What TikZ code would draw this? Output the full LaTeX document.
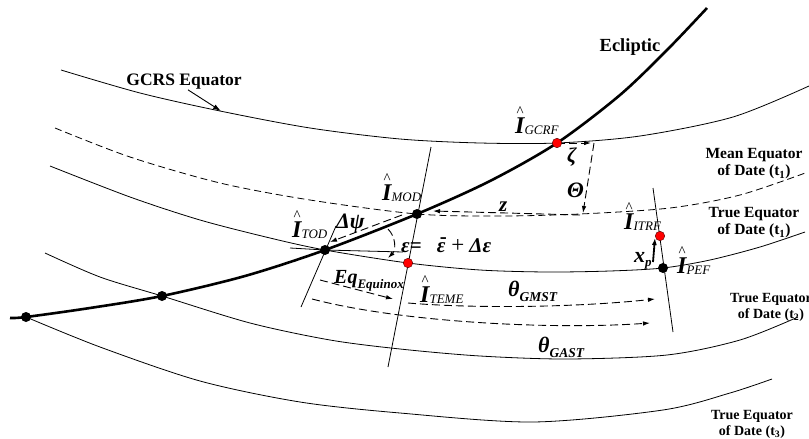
\documentclass[tikz,border=0pt]{standalone}
\usepackage{fontspec}
\setmainfont{Liberation Serif}
\usetikzlibrary{arrows.meta}
\newcommand\uvI[1]{\makebox[0pt][l]{\hspace{1.5pt}\raisebox{17pt}{\fontsize{15}{15}\selectfont\textasciicircum}}{\fontsize{24}{24}\selectfont\bfseries\itshape I}\raisebox{-1.5pt}{\fontsize{13}{13}\selectfont\itshape #1}}
\newcommand\epsbar{\makebox[0pt][l]{\hspace{3pt}\raisebox{8.5pt}{\upshape -}}ε}
\tikzset{
  thin line/.style={line width=0.8pt},
  ecl/.style={line width=2.6pt},
  dashcurve/.style={line width=0.8pt, dash pattern=on 7pt off 4pt},
  darr/.style={line width=0.9pt, dash pattern=on 8pt off 4pt, -{Latex[length=7pt,width=4.5pt]}},
  sarr/.style={line width=0.9pt, -{Latex[length=8pt,width=5pt]}},
  bdot/.style={circle, fill=black, inner sep=0pt, minimum size=10pt},
  rdot/.style={circle, fill=red, draw=black!70!red, line width=0.4pt, inner sep=0pt, minimum size=9.5pt},
  lbl/.style={inner sep=0pt, font=\bfseries},
  sym/.style={inner sep=0pt, anchor=base west},
}
\begin{document}
\begin{tikzpicture}[x=1pt,y=-1pt]
\useasboundingbox (0,0) rectangle (809,439);
% key points
\coordinate (p0) at (26,317);
\coordinate (p1) at (162,296);
\coordinate (tod) at (325,250);
\coordinate (mod) at (417,214);
\coordinate (gcrf) at (557,143);
\coordinate (teme) at (408,263);
\coordinate (itrf) at (660,236);
\coordinate (pef) at (663,268);
% GCRS equator
\draw[thin line] plot[smooth] coordinates {(61,70) (140,93) (220,111) (310,128) (400,139) (480,143) (gcrf) (640,136) (733,117) (809,86)};
% Mean equator of date (dashed)
\draw[dashcurve] plot[smooth] coordinates {(55,128) (130,157) (220,183) (310,200) (mod) (500,216) (580,214) (670,208) (740,195) (808,172)};
% True equator t1
\draw[thin line] plot[smooth] coordinates {(50,166) (130,197) (200,220) (270,238) (tod) (teme) (480,270) (547,272) (610,271) (pef) (710,260) (760,247) (805,232)};
% True equator t2
\draw[thin line] plot[smooth] coordinates {(45,253) (100,277) (p1) (250,323) (330,340) (400,349) (480,356) (567,359) (667,355) (740,340) (798,317)};
% True equator t3
\draw[thin line] plot[smooth] coordinates {(p0) (100,347) (200,381) (300,402) (400,413) (533,422) (663,410) (730,393) (772,379)};
% Ecliptic
\draw[ecl] plot[smooth] coordinates {(10,318) (p0) (90,308) (p1) (245,276) (tod) (mod) (490,181) (gcrf) (620,95) (668,49) (707,8)};
% tangent at TOD
\coordinate (tanL) at (290,248);
\coordinate (tanR) at (403,252);
\draw[thin line] (tanL) -- (tod) -- (tanR);
% meridian lines
\coordinate (m1a) at (336,226); \coordinate (m1b) at (301,307);
\coordinate (m2a) at (431,147); \coordinate (m2b) at (388,367);
\coordinate (m3a) at (653,188); \coordinate (m3b) at (673,332);
\draw[thin line] (m1a) -- (m1b);
\draw[thin line] (m2a) -- (m2b);
\draw[thin line] (m3a) -- (m3b);
% dashed arrows
\coordinate (zetaE) at (591,143);
\coordinate (thtop) at (594,143);
\coordinate (thbot) at (583,213);
\coordinate (zR) at (580,215);
\coordinate (zL) at (433,211);
\coordinate (dpsiA) at (402,215);
\coordinate (dpsiB) at (330,242);
\coordinate (epsA) at (388,229);
\coordinate (epsB) at (388,258);
\coordinate (eqA) at (320,280);
\coordinate (eqB) at (393,299);
\coordinate (gmA) at (408,303);
\coordinate (gmB) at (655,299);
\coordinate (gaA) at (312,299);
\coordinate (gaB) at (650,323);
\coordinate (xpA) at (653,262);
\coordinate (xpB) at (655,238);
\coordinate (gcrstip) at (221,111);
\draw[darr] (gcrf) -- (zetaE);
\draw[darr] (thtop) -- (thbot);
\draw[darr] (zR) -- (zL);
\draw[darr] (dpsiA) -- (dpsiB);
\draw[darr] (epsA) .. controls (396,237) and (396,250) .. (epsB);
\draw[darr] (eqA) -- (eqB);
\draw[darr] (gmA) .. controls (480,309) and (580,307) .. (gmB);
\draw[darr] (gaA) .. controls (400,322) and (550,330) .. (gaB);
\draw[line width=1.8pt, -{Latex[length=7pt,width=5pt]}] (xpA) -- (xpB);
% dots
\node[bdot] (d0) at (p0) {};
\node[bdot] (d1) at (p1) {};
\node[bdot] (dtod) at (tod) {};
\node[bdot] (dmod) at (mod) {};
\node[bdot] (dpef) at (pef) {};
\node[rdot] (dgcrf) at (gcrf) {};
\node[rdot] (dteme) at (teme) {};
\node[rdot] (ditrf) at (itrf) {};
% text labels
\node[lbl, font=\bfseries\fontsize{17.5}{17.5}\selectfont] (gcrsl) at (184,82) {GCRS Equator};
\draw[sarr] ([xshift=4pt]gcrsl.south) -- (gcrstip);
\node[lbl, font=\bfseries\fontsize{18.5}{18.5}\selectfont] (eclL) at (630,47) {Ecliptic};
\node[lbl, align=center, font=\bfseries\fontsize{15.5}{17}\selectfont] (meanL) at (754,164) {Mean Equator\\of Date (t\textsubscript{1})};
\node[lbl, align=center, font=\bfseries\fontsize{15.5}{17}\selectfont] (t1L) at (754,223) {True Equator\\of Date (t\textsubscript{1})};
\node[lbl, align=center, font=\bfseries\fontsize{14}{16}\selectfont] (t2L) at (771,307) {True Equator\\of Date (t\textsubscript{2})};
\node[lbl, align=center, font=\bfseries\fontsize{14}{16}\selectfont] (t3L) at (752,424) {True Equator\\of Date (t\textsubscript{3})};
% unit vector labels
\node[sym] (lgcrf) at (515,133) {\uvI{GCRF}};
\node[sym] (lmod) at (382,200) {\uvI{MOD}};
\node[sym] (ltod) at (292,237) {\uvI{TOD}};
\node[sym] (lteme) at (420,302) {\uvI{TEME}};
\node[sym] (litrf) at (624,229) {\uvI{ITRF}};
\node[sym] (lpef) at (677,273) {\uvI{PEF}};
% symbol labels
\node[sym, font=\bfseries\itshape\fontsize{22}{22}\selectfont] (ldpsi) at (336,228) {Δψ};
\node[sym, font=\bfseries\itshape\fontsize{21}{21}\selectfont] (leps) at (401,252) {ε{\upshape =}\hspace{15pt}\epsbar\hspace{6pt}{\upshape\mdseries\fontsize{23}{23}\selectfont +}\hspace{5pt}Δε};
\node[sym, font=\bfseries\itshape\fontsize{21}{21}\selectfont] (lzeta) at (567,162) {ζ};
\node[sym, font=\bfseries\itshape\fontsize{22}{22}\selectfont] (lTheta) at (567,197) {Θ};
\node[sym, font=\bfseries\itshape\fontsize{21}{21}\selectfont] (lz) at (499,211) {z};
\node[sym, font=\bfseries\itshape\fontsize{22}{22}\selectfont] (lxp) at (634,262) {x\raisebox{-4pt}{\fontsize{13}{13}\selectfont p}};
\node[sym, font=\bfseries\itshape\fontsize{20}{20}\selectfont] (leq) at (334,283) {Eq\raisebox{-5pt}{\fontsize{13}{13}\selectfont Equinox}};
\node[sym, font=\bfseries\itshape\fontsize{22}{22}\selectfont] (lgmst) at (508,296) {θ\raisebox{-5pt}{\fontsize{13.5}{13.5}\selectfont GMST}};
\node[sym, font=\bfseries\itshape\fontsize{22}{22}\selectfont] (lgast) at (538,352) {θ\raisebox{-5pt}{\fontsize{13.5}{13.5}\selectfont GAST}};
\end{tikzpicture}
\end{document}
